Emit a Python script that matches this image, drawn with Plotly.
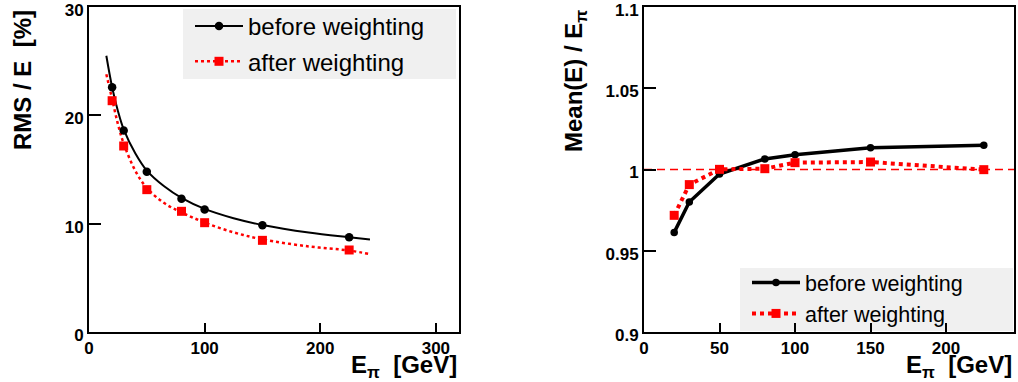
import plotly.graph_objects as go

W, H = 1018, 382

# ---------------- data ----------------
energies = [20, 30, 50, 80, 100, 150, 225]

rms_before = [22.6, 18.6, 14.8, 12.3, 11.3, 9.85, 8.74]
rms_after = [21.35, 17.17, 13.14, 11.14, 10.09, 8.46, 7.57]

fit_x = [15, 20, 25, 30, 40, 50, 65, 80, 100, 125, 150, 190, 225, 243]
fit_before = [25.5, 22.6, 20.4, 18.7, 16.5, 14.9, 13.45, 12.38, 11.36, 10.5, 9.88, 9.18, 8.74, 8.53]
fit_after = [23.8, 21.5, 19.2, 17.4, 14.9, 13.3, 11.9, 11.05, 10.1, 9.2, 8.55, 7.9, 7.52, 7.19]

mean_before = [0.9613, 0.980, 0.9972, 1.0065, 1.0091, 1.0134, 1.0149]
mean_after = [0.9718, 0.9907, 1.0001, 1.0005, 1.0042, 1.0046, 0.9999]
reference_ratio = 1.0

left_xticks = [0, 100, 200, 300]
left_yticks = [0, 10, 20, 30]
right_xticks = [0, 50, 100, 150, 200]
right_yticks = [0.9, 0.95, 1.0, 1.05, 1.1]
right_yticktext = ["0.9", "0.95", "1", "1.05", "1.1"]

series_names = ["before weighting", "after weighting"]

# ---------------- styling helpers ----------------
FONT = "Liberation Sans, Arial, Helvetica, sans-serif"
RED = "#ff0000"


def px(x):
    return x / W


def py(y):
    return 1 - y / H


fig = go.Figure()

# ---- left panel: fit curves ----
fig.add_trace(go.Scatter(x=fit_x, y=fit_before, mode="lines", line=dict(color="black", width=2, shape="spline"),
                         xaxis="x", yaxis="y", showlegend=False, hoverinfo="skip"))
fig.add_trace(go.Scatter(x=fit_x, y=fit_after, mode="lines", line=dict(color=RED, width=2.5, dash="dot", shape="spline"),
                         xaxis="x", yaxis="y", showlegend=False, hoverinfo="skip"))
# ---- left panel: points ----
fig.add_trace(go.Scatter(x=energies, y=rms_before, mode="markers",
                         marker=dict(symbol="circle", size=8.5, color="black"),
                         xaxis="x", yaxis="y", showlegend=False))
fig.add_trace(go.Scatter(x=energies, y=rms_after, mode="markers",
                         marker=dict(symbol="square", size=9, color=RED),
                         xaxis="x", yaxis="y", showlegend=False))
# ---- left legend entries ----
fig.add_trace(go.Scatter(x=[None], y=[None], mode="lines+markers", name=series_names[0],
                         line=dict(color="black", width=2), marker=dict(symbol="circle", size=8.5, color="black"),
                         xaxis="x", yaxis="y", legend="legend", legendgroup="a"))
fig.add_trace(go.Scatter(x=[None], y=[None], mode="lines+markers", name=series_names[1],
                         line=dict(color=RED, width=2.5, dash="dot"), marker=dict(symbol="square", size=9, color=RED),
                         xaxis="x", yaxis="y", legend="legend", legendgroup="b"))

# ---- right panel ----
fig.add_trace(go.Scatter(x=energies, y=mean_before, mode="lines+markers", name=series_names[0],
                         line=dict(color="black", width=3.5), marker=dict(symbol="circle", size=7.5, color="black"),
                         xaxis="x2", yaxis="y2", legend="legend2", legendgroup="c"))
fig.add_trace(go.Scatter(x=energies, y=mean_after, mode="lines+markers", name=series_names[1],
                         line=dict(color=RED, width=4, dash="dot"), marker=dict(symbol="square", size=9, color=RED),
                         xaxis="x2", yaxis="y2", legend="legend2", legendgroup="d"))

# reference line at 1
fig.add_shape(type="line", xref="x2 domain", yref="y2", x0=0, x1=1, y0=reference_ratio, y1=reference_ratio,
              line=dict(color=RED, width=1.5, dash="8px,5px"), layer="below")

# legend backgrounds
fig.add_shape(type="rect", xref="paper", yref="paper", x0=px(183), x1=px(456), y0=py(79), y1=py(9),
              fillcolor="#f0f0f0", line=dict(width=0), layer="below")
fig.add_shape(type="rect", xref="paper", yref="paper", x0=px(740), x1=px(1013), y0=py(331), y1=py(268),
              fillcolor="#f0f0f0", line=dict(width=0), layer="below")

tickfont = dict(family=FONT, size=17, color="black", weight="bold")
axis_common = dict(showline=True, linecolor="black", linewidth=2, mirror=True, ticks="inside",
                   tickwidth=2, tickcolor="black", showgrid=False, zeroline=False, tickfont=tickfont,
                   automargin=False, fixedrange=True, ticklabeloverflow="allow")

fig.update_layout(
    width=W, height=H,
    margin=dict(l=0, r=0, t=0, b=0),
    paper_bgcolor="white", plot_bgcolor="rgba(0,0,0,0)",
    font=dict(family=FONT, color="black"),
    xaxis=dict(domain=[px(89), px(459)], range=[0, 320], tickvals=left_xticks, ticklen=9, anchor="y", **axis_common),
    yaxis=dict(domain=[py(332), py(7)], range=[0, 30], tickvals=left_yticks, ticklen=12, anchor="x",
               ticklabelshift=3, **axis_common),
    xaxis2=dict(domain=[px(644), px(1014)], range=[0, 245], tickvals=right_xticks, ticklen=9, anchor="y2", **axis_common),
    yaxis2=dict(domain=[py(332), py(7)], range=[0.9, 1.1], tickvals=right_yticks, ticktext=right_yticktext,
                ticklen=12, anchor="x2", ticklabelshift=3, **axis_common),
    legend=dict(x=px(190), y=py(4), xanchor="left", yanchor="top", bgcolor="rgba(0,0,0,0)",
                font=dict(family=FONT, size=24, color="black"), itemwidth=48, tracegroupgap=1,
                traceorder="grouped"),
    legend2=dict(x=px(747), y=py(262), xanchor="left", yanchor="top", bgcolor="rgba(0,0,0,0)",
                 font=dict(family=FONT, size=21.5, color="black"), itemwidth=48, tracegroupgap=0,
                 traceorder="grouped"),
    showlegend=True,
)

title_font = dict(family=FONT, size=24, color="black", weight="bold")
NB = "\u00a0"
fig.add_annotation(text="RMS / E" + NB + NB + "[%]", xref="paper", yref="paper", x=px(22), y=py(8),
                   xanchor="center", yanchor="top", textangle=-90, showarrow=False, font=title_font)
fig.add_annotation(text="E<sub>π</sub>" + NB + NB + "[GeV]", xref="paper", yref="paper", x=px(459), y=py(366),
                   xanchor="right", yanchor="middle", showarrow=False, font=title_font)
fig.add_annotation(text="Mean(E) / E<sub>π</sub>", xref="paper", yref="paper", x=px(575), y=py(8),
                   xanchor="center", yanchor="top", textangle=-90, showarrow=False, font=title_font)
fig.add_annotation(text="E<sub>π</sub>" + NB + NB + "[GeV]", xref="paper", yref="paper", x=px(1014), y=py(366),
                   xanchor="right", yanchor="middle", showarrow=False, font=title_font)

fig.write_html("out.html")
